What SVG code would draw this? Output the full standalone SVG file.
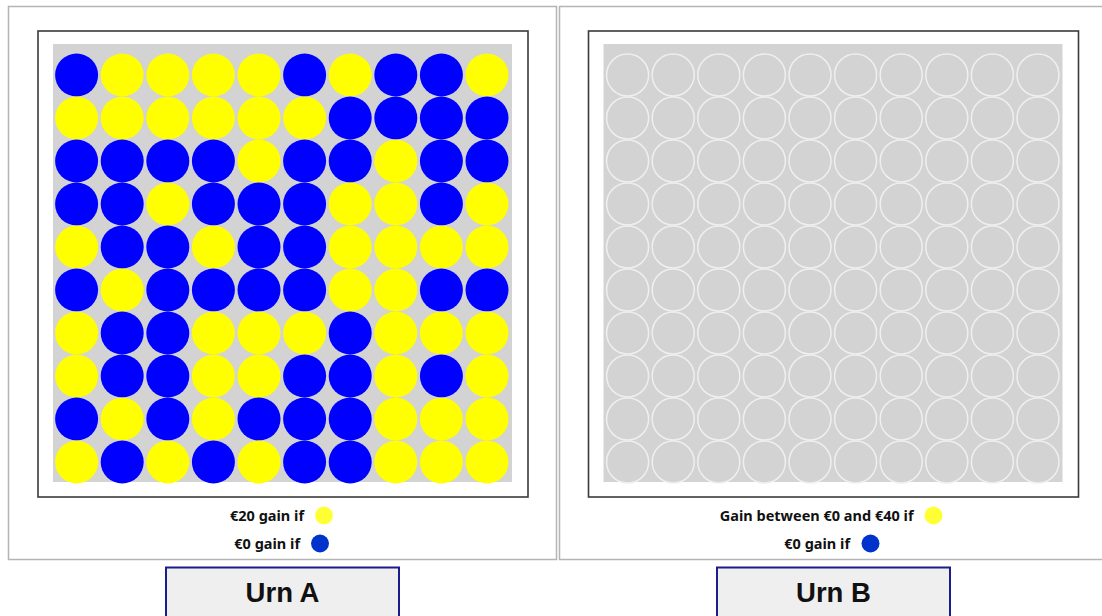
<svg xmlns="http://www.w3.org/2000/svg" xmlns:xlink="http://www.w3.org/1999/xlink" width="1102" height="616" viewBox="0 0 1102 616">
<style>
.panel{fill:#fff;stroke:#b4b4b4;stroke-width:1.5}
.frame{fill:#fff;stroke:#3a3a3a;stroke-width:1.6}
.bg{fill:#d3d3d3}
.y{fill:#ffff00}
.b{fill:#0000ff}
.e{fill:#d3d3d3;stroke:#efefef;stroke-width:1.5}
.lt{font-family:"Noto Sans","Liberation Sans",sans-serif;font-weight:bold;font-size:14.5px;fill:#111;text-anchor:end}
.ly{fill:#ffff33}
.lb{fill:#0033cc}
.btn{fill:#efefef;stroke:#1c1c8c;stroke-width:2}
.bt{font-family:"Liberation Sans",Arial,sans-serif;font-weight:bold;font-size:27.5px;fill:#111;text-anchor:middle}
</style>
<defs>
<g id="erow">
<circle class="e" cx="627.6" cy="0" r="21"/><circle class="e" cx="673.2" cy="0" r="21"/><circle class="e" cx="718.8" cy="0" r="21"/><circle class="e" cx="764.4" cy="0" r="21"/><circle class="e" cx="810" cy="0" r="21"/><circle class="e" cx="855.6" cy="0" r="21"/><circle class="e" cx="901.2" cy="0" r="21"/><circle class="e" cx="946.8" cy="0" r="21"/><circle class="e" cx="992.4" cy="0" r="21"/><circle class="e" cx="1038" cy="0" r="21"/>
</g>
</defs>
<rect width="1102" height="616" fill="#fff"/>
<g id="panelA">
<rect class="panel" x="8.5" y="6.5" width="548" height="553"/>
</g>
<g id="panelB">
<rect class="panel" x="559.5" y="6.5" width="560" height="553"/>
</g>
<g id="urnA">
<rect class="frame" x="38" y="31" width="490" height="466"/>
<rect class="bg" x="53" y="44" width="459" height="438"/>
<g>
<circle class="b" cx="76.6" cy="75" r="21.5"/><circle class="y" cx="122.2" cy="75" r="21.5"/><circle class="y" cx="167.8" cy="75" r="21.5"/><circle class="y" cx="213.4" cy="75" r="21.5"/><circle class="y" cx="259" cy="75" r="21.5"/><circle class="b" cx="304.6" cy="75" r="21.5"/><circle class="y" cx="350.2" cy="75" r="21.5"/><circle class="b" cx="395.8" cy="75" r="21.5"/><circle class="b" cx="441.4" cy="75" r="21.5"/><circle class="y" cx="487" cy="75" r="21.5"/>
<circle class="y" cx="76.6" cy="118" r="21.5"/><circle class="y" cx="122.2" cy="118" r="21.5"/><circle class="y" cx="167.8" cy="118" r="21.5"/><circle class="y" cx="213.4" cy="118" r="21.5"/><circle class="y" cx="259" cy="118" r="21.5"/><circle class="y" cx="304.6" cy="118" r="21.5"/><circle class="b" cx="350.2" cy="118" r="21.5"/><circle class="b" cx="395.8" cy="118" r="21.5"/><circle class="b" cx="441.4" cy="118" r="21.5"/><circle class="b" cx="487" cy="118" r="21.5"/>
<circle class="b" cx="76.6" cy="161" r="21.5"/><circle class="b" cx="122.2" cy="161" r="21.5"/><circle class="b" cx="167.8" cy="161" r="21.5"/><circle class="b" cx="213.4" cy="161" r="21.5"/><circle class="y" cx="259" cy="161" r="21.5"/><circle class="b" cx="304.6" cy="161" r="21.5"/><circle class="b" cx="350.2" cy="161" r="21.5"/><circle class="y" cx="395.8" cy="161" r="21.5"/><circle class="b" cx="441.4" cy="161" r="21.5"/><circle class="b" cx="487" cy="161" r="21.5"/>
<circle class="b" cx="76.6" cy="204" r="21.5"/><circle class="b" cx="122.2" cy="204" r="21.5"/><circle class="y" cx="167.8" cy="204" r="21.5"/><circle class="b" cx="213.4" cy="204" r="21.5"/><circle class="b" cx="259" cy="204" r="21.5"/><circle class="b" cx="304.6" cy="204" r="21.5"/><circle class="y" cx="350.2" cy="204" r="21.5"/><circle class="y" cx="395.8" cy="204" r="21.5"/><circle class="b" cx="441.4" cy="204" r="21.5"/><circle class="y" cx="487" cy="204" r="21.5"/>
<circle class="y" cx="76.6" cy="247" r="21.5"/><circle class="b" cx="122.2" cy="247" r="21.5"/><circle class="b" cx="167.8" cy="247" r="21.5"/><circle class="y" cx="213.4" cy="247" r="21.5"/><circle class="b" cx="259" cy="247" r="21.5"/><circle class="b" cx="304.6" cy="247" r="21.5"/><circle class="y" cx="350.2" cy="247" r="21.5"/><circle class="y" cx="395.8" cy="247" r="21.5"/><circle class="y" cx="441.4" cy="247" r="21.5"/><circle class="y" cx="487" cy="247" r="21.5"/>
<circle class="b" cx="76.6" cy="290" r="21.5"/><circle class="y" cx="122.2" cy="290" r="21.5"/><circle class="b" cx="167.8" cy="290" r="21.5"/><circle class="b" cx="213.4" cy="290" r="21.5"/><circle class="b" cx="259" cy="290" r="21.5"/><circle class="b" cx="304.6" cy="290" r="21.5"/><circle class="y" cx="350.2" cy="290" r="21.5"/><circle class="y" cx="395.8" cy="290" r="21.5"/><circle class="b" cx="441.4" cy="290" r="21.5"/><circle class="b" cx="487" cy="290" r="21.5"/>
<circle class="y" cx="76.6" cy="333" r="21.5"/><circle class="b" cx="122.2" cy="333" r="21.5"/><circle class="b" cx="167.8" cy="333" r="21.5"/><circle class="y" cx="213.4" cy="333" r="21.5"/><circle class="y" cx="259" cy="333" r="21.5"/><circle class="y" cx="304.6" cy="333" r="21.5"/><circle class="b" cx="350.2" cy="333" r="21.5"/><circle class="y" cx="395.8" cy="333" r="21.5"/><circle class="y" cx="441.4" cy="333" r="21.5"/><circle class="y" cx="487" cy="333" r="21.5"/>
<circle class="y" cx="76.6" cy="376" r="21.5"/><circle class="b" cx="122.2" cy="376" r="21.5"/><circle class="b" cx="167.8" cy="376" r="21.5"/><circle class="y" cx="213.4" cy="376" r="21.5"/><circle class="y" cx="259" cy="376" r="21.5"/><circle class="b" cx="304.6" cy="376" r="21.5"/><circle class="b" cx="350.2" cy="376" r="21.5"/><circle class="y" cx="395.8" cy="376" r="21.5"/><circle class="b" cx="441.4" cy="376" r="21.5"/><circle class="y" cx="487" cy="376" r="21.5"/>
<circle class="b" cx="76.6" cy="419" r="21.5"/><circle class="y" cx="122.2" cy="419" r="21.5"/><circle class="b" cx="167.8" cy="419" r="21.5"/><circle class="y" cx="213.4" cy="419" r="21.5"/><circle class="b" cx="259" cy="419" r="21.5"/><circle class="b" cx="304.6" cy="419" r="21.5"/><circle class="b" cx="350.2" cy="419" r="21.5"/><circle class="y" cx="395.8" cy="419" r="21.5"/><circle class="y" cx="441.4" cy="419" r="21.5"/><circle class="y" cx="487" cy="419" r="21.5"/>
<circle class="y" cx="76.6" cy="462" r="21.5"/><circle class="b" cx="122.2" cy="462" r="21.5"/><circle class="y" cx="167.8" cy="462" r="21.5"/><circle class="b" cx="213.4" cy="462" r="21.5"/><circle class="y" cx="259" cy="462" r="21.5"/><circle class="b" cx="304.6" cy="462" r="21.5"/><circle class="b" cx="350.2" cy="462" r="21.5"/><circle class="y" cx="395.8" cy="462" r="21.5"/><circle class="y" cx="441.4" cy="462" r="21.5"/><circle class="y" cx="487" cy="462" r="21.5"/>
</g>
</g>
<g id="urnB">
<rect class="frame" x="588.5" y="31" width="490" height="466"/>
<rect class="bg" x="603.5" y="44" width="459" height="438"/>
<use xlink:href="#erow" href="#erow" y="75"/>
<use xlink:href="#erow" href="#erow" y="118"/>
<use xlink:href="#erow" href="#erow" y="161"/>
<use xlink:href="#erow" href="#erow" y="204"/>
<use xlink:href="#erow" href="#erow" y="247"/>
<use xlink:href="#erow" href="#erow" y="290"/>
<use xlink:href="#erow" href="#erow" y="333"/>
<use xlink:href="#erow" href="#erow" y="376"/>
<use xlink:href="#erow" href="#erow" y="419"/>
<use xlink:href="#erow" href="#erow" y="462"/>
</g>
<g id="legendA">
<text class="lt" x="304" y="520.5">€20 gain if</text>
<circle class="ly" cx="324" cy="515.5" r="9"/>
<text class="lt" x="300" y="548.5">€0 gain if</text>
<circle class="lb" cx="320" cy="543.5" r="9"/>
</g>
<g id="legendB">
<text class="lt" x="913.5" y="520.5">Gain between €0 and €40 if</text>
<circle class="ly" cx="933.5" cy="515.5" r="9"/>
<text class="lt" x="850" y="548.5">€0 gain if</text>
<circle class="lb" cx="870.5" cy="543.5" r="9"/>
</g>
<g id="buttonA">
<rect class="btn" x="166" y="567.5" width="233" height="60"/>
<text class="bt" x="282.5" y="602">Urn A</text>
</g>
<g id="buttonB">
<rect class="btn" x="717" y="567.5" width="233" height="60"/>
<text class="bt" x="833.5" y="602">Urn B</text>
</g>
</svg>
